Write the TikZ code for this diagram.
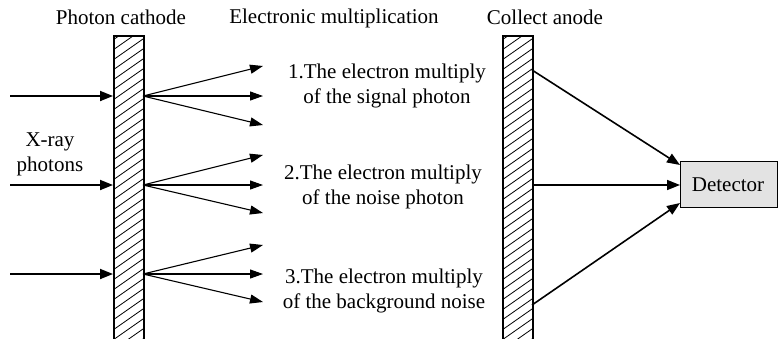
\documentclass[tikz,border=0pt]{standalone}
\usepackage{fontspec}
\setmainfont{Liberation Serif}
\usetikzlibrary{arrows.meta}
\begin{document}
\begin{tikzpicture}[x=1pt,y=-1pt,
  txt/.style={font=\fontsize{21}{25}\selectfont, inner sep=0pt, align=center},
  plate/.style={draw, line width=1.6pt, minimum width=30pt, minimum height=306pt, inner sep=0pt, anchor=north west},
  inarrow/.style={line width=1.8pt, -{Stealth[length=13pt,width=10pt,inset=0pt]}},
  fan/.style={line width=1.1pt, -{Stealth[length=13pt,width=9pt,inset=0pt]}},
  outarrow/.style={line width=1.6pt, -{Stealth[length=13pt,width=10pt,inset=0pt]}},
  hatch/.style={line width=0.8pt}
]
\useasboundingbox (0,0) rectangle (778,338);
% plates
\node[plate] (cath) at (113,35) {};
\node[plate] (anode) at (502,35) {};
% hatching
\begin{scope}
  \clip (113,35) rectangle (143,342);
  \foreach \k in {0,...,34} {
    \draw[hatch] (113,40+10*\k) -- (143,19+10*\k);
  }
\end{scope}
\begin{scope}
  \clip (502,35) rectangle (532,342);
  \foreach \k in {0,...,34} {
    \draw[hatch] (502,40+10*\k) -- (532,19+10*\k);
  }
\end{scope}
\node[plate] at (113,35) {};
\node[plate] at (502,35) {};
% titles
\node[txt] (t1) at (121,17) {Photon cathode};
\node[txt] (t2) at (334,18) {Electronic multiplication};
\node[txt] (t3) at (545,17) {Collect anode};
\node[txt] (xray) at (50,154) {X-ray\\photons};
% detector
\node[draw, line width=1pt, fill=black!11, minimum width=97pt, minimum height=46pt, inner sep=0pt, anchor=north west] (det) at (680,161) {};
\node[txt] (dett) at (728,185) {Detector};
% labels
\node[txt] (l1) at (387,86) {1.The electron multiply\\of the signal photon};
\node[txt] (l2) at (383,187) {2.The electron multiply\\of the noise photon};
\node[txt] (l3) at (384,291) {3.The electron multiply\\of the background noise};
% input arrows
\coordinate (s1) at (10,96);
\coordinate (s2) at (10,185);
\coordinate (s3) at (10,274);
\coordinate (c1) at (113,96);
\coordinate (c2) at (113,185);
\coordinate (c3) at (113,274);
\draw[inarrow] (s1) -- (c1);
\draw[inarrow] (s2) -- (c2);
\draw[inarrow] (s3) -- (c3);
% fan arrows
\coordinate (o1) at (143,96);
\coordinate (o2) at (143,185);
\coordinate (o3) at (143,274);
\coordinate (a1) at (263,66);
\coordinate (a2) at (263,96);
\coordinate (a3) at (263,125);
\coordinate (b1) at (263,155);
\coordinate (b2) at (263,185);
\coordinate (b3) at (263,213);
\coordinate (d1) at (263,245);
\coordinate (d2) at (263,274);
\coordinate (d3) at (263,302);
\foreach \e in {a1,a2,a3} \draw[fan] (o1) -- (\e);
\foreach \e in {b1,b2,b3} \draw[fan] (o2) -- (\e);
\foreach \e in {d1,d2,d3} \draw[fan] (o3) -- (\e);
% anode to detector
\coordinate (p1) at (532,70);
\coordinate (p2) at (532,185);
\coordinate (p3) at (532,305);
\coordinate (q1) at (680,165);
\coordinate (q2) at (680,185);
\coordinate (q3) at (680,203);
\draw[outarrow] (p1) -- (q1);
\draw[outarrow] (p2) -- (q2);
\draw[outarrow] (p3) -- (q3);
\end{tikzpicture}
\end{document}
